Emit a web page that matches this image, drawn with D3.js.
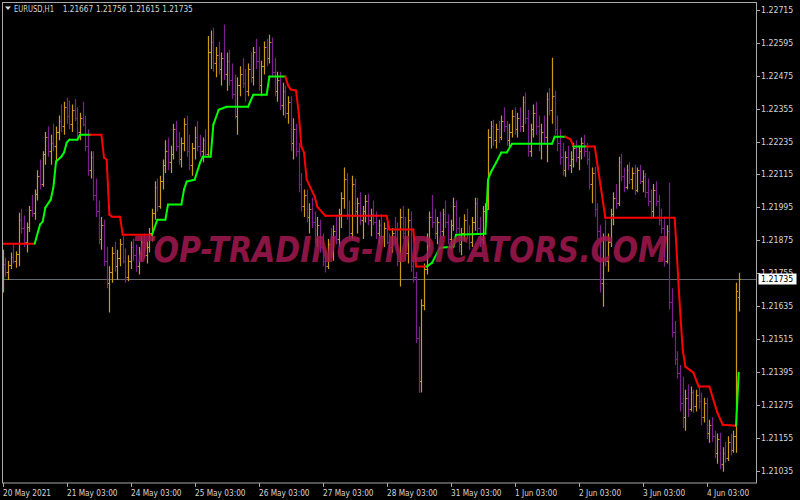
<!DOCTYPE html>
<html>
<head>
<meta charset="utf-8">
<title>EURUSD H1</title>
<script src="https://d3js.org/d3.v7.min.js"></script>
<style>
body { margin: 0; background: #000; }
</style>
</head>
<body>
<svg id="chart" width="800" height="500"></svg>
<script>
// header line
var symbolTitle = "EURUSD,H1";
var lastQuote = ["1.21667", "1.21756", "1.21615", "1.21735"];
var currentPrice = 1.21735;

// time axis: one label every 24 hourly bars
var dayLabels = ["20 May 2021", "21 May 03:00", "24 May 03:00", "25 May 03:00", "26 May 03:00", "27 May 03:00",
                 "28 May 03:00", "31 May 03:00", "1 Jun 03:00", "2 Jun 03:00", "3 Jun 03:00", "4 Jun 03:00"];
var dayBars = [0, 24, 48, 72, 96, 120, 144, 168, 192, 216, 240, 264];

// price axis
var priceTicks = [1.22715, 1.22595, 1.22475, 1.22355, 1.22235, 1.22115, 1.21995, 1.21875,
                  1.21755, 1.21635, 1.21515, 1.21395, 1.21275, 1.21155, 1.21035];

// hourly bars
var openP = [
1.21700,1.21790,1.21760,1.21785,1.21815,1.21800,1.21825,1.21950,1.21920,1.21870,1.21925,1.21985,
1.21975,1.22045,1.22110,1.22080,1.22190,1.22250,1.22200,1.22230,1.22220,1.22270,1.22310,1.22290,
1.22360,1.22330,1.22300,1.22350,1.22320,1.22270,1.22320,1.22300,1.22220,1.22130,1.22180,1.22040,
1.21980,1.21880,1.21930,1.21800,1.21720,1.21760,1.21830,1.21780,1.21810,1.21860,1.21800,1.21740,
1.21800,1.21850,1.21820,1.21780,1.21830,1.21870,1.21820,1.21850,1.21900,1.21975,1.22070,1.22000,
1.22090,1.22150,1.22200,1.22160,1.22190,1.22280,1.22220,1.22170,1.22230,1.22300,1.22200,1.22150,
1.22210,1.22250,1.22220,1.22200,1.22240,1.22190,1.22560,1.22600,1.22520,1.22550,1.22500,1.22540,
1.22480,1.22530,1.22460,1.22410,1.22330,1.22440,1.22480,1.22450,1.22420,1.22500,1.22470,1.22560,
1.22530,1.22440,1.22510,1.22580,1.22540,1.22600,1.22490,1.22420,1.22460,1.22370,1.22420,1.22340,
1.22380,1.22230,1.22280,1.22200,1.22080,1.22000,1.22040,1.21960,1.21990,1.21940,1.21880,1.21930,
1.21850,1.21800,1.21780,1.21860,1.21830,1.21910,1.21880,1.21970,1.22030,1.22100,1.21970,1.21900,
1.22080,1.21980,1.22010,1.21950,1.21980,1.22020,1.21950,1.21970,1.21940,1.21900,1.21930,1.21890,
1.21920,1.21870,1.21850,1.21900,1.21880,1.21800,1.21960,1.21900,1.21830,1.21950,1.21780,1.21740,
1.21520,1.21360,1.21640,1.21770,1.21880,1.21960,1.21940,1.21900,1.21940,1.21910,1.21970,1.21940,
1.21880,1.21930,1.22000,1.21920,1.21860,1.21900,1.21950,1.21900,1.21870,1.21940,1.22010,1.21920,
1.21880,1.21980,1.21990,1.22250,1.22290,1.22240,1.22280,1.22250,1.22310,1.22290,1.22240,1.22270,
1.22330,1.22280,1.22320,1.22290,1.22380,1.22320,1.22200,1.22280,1.22340,1.22290,1.22230,1.22270,
1.22250,1.22390,1.22350,1.22400,1.22280,1.22230,1.22180,1.22130,1.22180,1.22150,1.22170,1.22210,
1.22180,1.22200,1.22230,1.22200,1.22170,1.22080,1.22120,1.21990,1.21910,1.21720,1.21880,1.21800,
1.21870,1.21970,1.22030,1.22010,1.22160,1.22110,1.22070,1.22130,1.22100,1.22120,1.22060,1.22130,
1.22090,1.22110,1.22050,1.22020,1.21980,1.22060,1.22020,1.21950,1.21920,1.21800,1.21910,1.21650,
1.21540,1.21440,1.21390,1.21280,1.21230,1.21300,1.21260,1.21320,1.21270,1.21310,1.21290,1.21230,
1.21280,1.21170,1.21200,1.21160,1.21100,1.21150,1.21060,1.21100,1.21080,1.21140,1.21110,1.21160,
1.21667];
var highP = [
1.21840,1.21812,1.21800,1.21830,1.21860,1.21835,1.21975,1.21990,1.21965,1.21940,1.22000,1.22040,
1.22060,1.22130,1.22170,1.22200,1.22270,1.22290,1.22260,1.22300,1.22290,1.22330,1.22370,1.22380,
1.22395,1.22385,1.22370,1.22390,1.22360,1.22340,1.22380,1.22330,1.22280,1.22200,1.22200,1.22100,
1.22020,1.21960,1.21950,1.21850,1.21780,1.21850,1.21870,1.21840,1.21880,1.21890,1.21845,1.21820,
1.21870,1.21880,1.21860,1.21850,1.21890,1.21900,1.21870,1.21920,1.21990,1.22090,1.22100,1.22110,
1.22170,1.22240,1.22250,1.22220,1.22300,1.22310,1.22270,1.22250,1.22320,1.22330,1.22260,1.22230,
1.22290,1.22310,1.22260,1.22250,1.22280,1.22620,1.22640,1.22650,1.22580,1.22600,1.22560,1.22662,
1.22560,1.22570,1.22520,1.22480,1.22470,1.22510,1.22540,1.22500,1.22520,1.22560,1.22580,1.22610,
1.22580,1.22530,1.22600,1.22610,1.22625,1.22615,1.22540,1.22490,1.22490,1.22450,1.22440,1.22400,
1.22400,1.22320,1.22300,1.22230,1.22120,1.22060,1.22060,1.22010,1.22030,1.21980,1.21960,1.21950,
1.21900,1.21840,1.21880,1.21920,1.21930,1.21960,1.21990,1.22050,1.22140,1.22120,1.22020,1.22110,
1.22100,1.22030,1.22050,1.22000,1.22040,1.22045,1.21990,1.22020,1.21980,1.21950,1.21970,1.21940,
1.21950,1.21900,1.21920,1.21960,1.21940,1.21990,1.22000,1.21960,1.21990,1.21980,1.21820,1.21760,
1.21560,1.21660,1.21790,1.21900,1.21980,1.22040,1.21990,1.21960,1.21980,1.21990,1.22020,1.21970,
1.21950,1.22030,1.22020,1.21960,1.21920,1.21970,1.21990,1.21930,1.21960,1.22030,1.22030,1.21960,
1.22000,1.22010,1.22280,1.22310,1.22315,1.22300,1.22310,1.22330,1.22360,1.22310,1.22300,1.22350,
1.22360,1.22340,1.22360,1.22400,1.22414,1.22350,1.22300,1.22370,1.22380,1.22330,1.22300,1.22330,
1.22414,1.22430,1.22541,1.22420,1.22330,1.22280,1.22230,1.22200,1.22220,1.22200,1.22230,1.22240,
1.22220,1.22250,1.22260,1.22230,1.22200,1.22140,1.22143,1.22010,1.21930,1.21900,1.21950,1.21900,
1.21990,1.22050,1.22080,1.22180,1.22190,1.22140,1.22150,1.22160,1.22140,1.22150,1.22140,1.22150,
1.22130,1.22120,1.22100,1.22060,1.22080,1.22090,1.22040,1.21990,1.21961,1.21930,1.22085,1.21700,
1.21580,1.21470,1.21420,1.21377,1.21330,1.21350,1.21341,1.21330,1.21330,1.21340,1.21320,1.21300,
1.21300,1.21220,1.21230,1.21180,1.21170,1.21173,1.21120,1.21140,1.21160,1.21170,1.21180,1.21720,
1.21756];
var lowP = [
1.21684,1.21742,1.21730,1.21770,1.21790,1.21775,1.21780,1.21900,1.21850,1.21830,1.21905,1.21960,
1.21950,1.22020,1.22060,1.22070,1.22150,1.22180,1.22150,1.22200,1.22160,1.22240,1.22270,1.22260,
1.22300,1.22280,1.22270,1.22310,1.22250,1.22240,1.22290,1.22200,1.22110,1.22100,1.22020,1.21960,
1.21860,1.21840,1.21780,1.21700,1.21611,1.21720,1.21760,1.21730,1.21780,1.21790,1.21720,1.21725,
1.21770,1.21800,1.21760,1.21750,1.21800,1.21810,1.21790,1.21830,1.21870,1.21950,1.21980,1.21990,
1.22060,1.22120,1.22130,1.22120,1.22170,1.22200,1.22150,1.22140,1.22200,1.22180,1.22130,1.22110,
1.22170,1.22200,1.22180,1.22160,1.22180,1.22180,1.22500,1.22490,1.22470,1.22480,1.22440,1.22460,
1.22420,1.22440,1.22390,1.22320,1.22260,1.22400,1.22430,1.22380,1.22400,1.22450,1.22440,1.22500,
1.22420,1.22400,1.22480,1.22510,1.22520,1.22470,1.22400,1.22380,1.22350,1.22330,1.22320,1.22300,
1.22200,1.22170,1.22180,1.22050,1.21980,1.21960,1.21940,1.21900,1.21920,1.21860,1.21850,1.21830,
1.21780,1.21757,1.21770,1.21810,1.21800,1.21860,1.21850,1.21920,1.21990,1.21950,1.21880,1.21880,
1.21960,1.21900,1.21930,1.21880,1.21940,1.21930,1.21890,1.21930,1.21880,1.21860,1.21880,1.21850,
1.21860,1.21820,1.21830,1.21860,1.21780,1.21706,1.21880,1.21800,1.21790,1.21760,1.21720,1.21500,
1.21319,1.21320,1.21620,1.21750,1.21850,1.21920,1.21880,1.21860,1.21880,1.21890,1.21920,1.21860,
1.21840,1.21910,1.21900,1.21830,1.21820,1.21870,1.21880,1.21840,1.21850,1.21910,1.21900,1.21850,
1.21860,1.21940,1.21986,1.22210,1.22220,1.22210,1.22230,1.22240,1.22270,1.22220,1.22210,1.22250,
1.22260,1.22250,1.22270,1.22270,1.22300,1.22180,1.22180,1.22250,1.22260,1.22200,1.22170,1.22230,
1.22160,1.22330,1.22300,1.22260,1.22200,1.22150,1.22110,1.22107,1.22130,1.22120,1.22140,1.22160,
1.22130,1.22170,1.22180,1.22150,1.22060,1.22010,1.21961,1.21880,1.21684,1.21632,1.21780,1.21760,
1.21850,1.21930,1.21990,1.22000,1.22090,1.22050,1.22060,1.22080,1.22060,1.22040,1.22050,1.22080,
1.22050,1.22030,1.22000,1.21960,1.21960,1.22000,1.21930,1.21900,1.21778,1.21790,1.21622,1.21520,
1.21420,1.21370,1.21250,1.21190,1.21180,1.21230,1.21250,1.21246,1.21250,1.21260,1.21200,1.21210,
1.21150,1.21136,1.21140,1.21080,1.21060,1.21040,1.21030,1.21063,1.21070,1.21090,1.21100,1.21100,
1.21615];
var closeP = [
1.21790,1.21760,1.21785,1.21815,1.21800,1.21825,1.21950,1.21920,1.21870,1.21925,1.21985,1.21975,
1.22045,1.22110,1.22080,1.22190,1.22250,1.22200,1.22230,1.22220,1.22270,1.22310,1.22290,1.22360,
1.22330,1.22300,1.22350,1.22320,1.22270,1.22320,1.22300,1.22220,1.22130,1.22180,1.22040,1.21980,
1.21880,1.21930,1.21800,1.21720,1.21760,1.21830,1.21780,1.21810,1.21860,1.21800,1.21740,1.21800,
1.21850,1.21820,1.21780,1.21830,1.21870,1.21820,1.21850,1.21900,1.21975,1.22070,1.22000,1.22090,
1.22150,1.22200,1.22160,1.22190,1.22280,1.22220,1.22170,1.22230,1.22300,1.22200,1.22150,1.22210,
1.22250,1.22220,1.22200,1.22240,1.22190,1.22560,1.22600,1.22520,1.22550,1.22500,1.22540,1.22480,
1.22530,1.22460,1.22410,1.22330,1.22440,1.22480,1.22450,1.22420,1.22500,1.22470,1.22560,1.22530,
1.22440,1.22510,1.22580,1.22540,1.22600,1.22490,1.22420,1.22460,1.22370,1.22420,1.22340,1.22380,
1.22230,1.22280,1.22200,1.22080,1.22000,1.22040,1.21960,1.21990,1.21940,1.21880,1.21930,1.21850,
1.21800,1.21780,1.21860,1.21830,1.21910,1.21880,1.21970,1.22030,1.22100,1.21970,1.21900,1.22080,
1.21980,1.22010,1.21950,1.21980,1.22020,1.21950,1.21970,1.21940,1.21900,1.21930,1.21890,1.21920,
1.21870,1.21850,1.21900,1.21880,1.21800,1.21960,1.21900,1.21830,1.21950,1.21780,1.21740,1.21520,
1.21360,1.21640,1.21770,1.21880,1.21960,1.21940,1.21900,1.21940,1.21910,1.21970,1.21940,1.21880,
1.21930,1.22000,1.21920,1.21860,1.21900,1.21950,1.21900,1.21870,1.21940,1.22010,1.21920,1.21880,
1.21980,1.21990,1.22250,1.22290,1.22240,1.22280,1.22250,1.22310,1.22290,1.22240,1.22270,1.22330,
1.22280,1.22320,1.22290,1.22380,1.22320,1.22200,1.22280,1.22340,1.22290,1.22230,1.22270,1.22250,
1.22390,1.22350,1.22400,1.22280,1.22230,1.22180,1.22130,1.22180,1.22150,1.22170,1.22210,1.22180,
1.22200,1.22230,1.22200,1.22170,1.22080,1.22120,1.21990,1.21910,1.21720,1.21880,1.21800,1.21870,
1.21970,1.22030,1.22010,1.22160,1.22110,1.22070,1.22130,1.22100,1.22120,1.22060,1.22130,1.22090,
1.22110,1.22050,1.22020,1.21980,1.22060,1.22020,1.21950,1.21920,1.21800,1.21910,1.21650,1.21540,
1.21440,1.21390,1.21280,1.21230,1.21300,1.21260,1.21320,1.21270,1.21310,1.21290,1.21230,1.21280,
1.21170,1.21200,1.21160,1.21100,1.21150,1.21060,1.21100,1.21080,1.21140,1.21110,1.21160,1.21690,
1.21735];

// trend line indicator: turning points (bar index, price, 1 = up/green, -1 = down/red)
var sigBar = [0,12,14,15,16,18,19,20,22,23,24,25,28,29,33,37,38,39,40,41,44,45,56,58,61,62,67,68,69,72,
              74,75,78,79,81,84,92,94,99,100,106,107,108,110,111,112,113,114,117,118,121,144,145,154,155,159,
              161,164,169,170,181,182,183,185,187,189,191,206,207,211,213,214,216,219,222,226,252,254,255,256,
              259,261,265,268,270,275,276];
var sigVal = [1.21862,1.21862,1.21932,1.21943,1.21994,1.22023,1.22067,1.22162,1.22180,1.22195,1.22231,1.22242,
              1.22242,1.22260,1.22260,1.22260,1.22176,1.22169,1.21968,1.21961,1.21961,1.21895,1.21895,1.21950,
              1.21950,1.22005,1.22005,1.22060,1.22089,1.22096,1.22158,1.22180,1.22180,1.22297,1.22351,1.22362,
              1.22362,1.22406,1.22406,1.22472,1.22472,1.22440,1.22425,1.22421,1.22341,1.22217,1.22195,1.22096,
              1.22034,1.21997,1.21964,1.21964,1.21914,1.21914,1.21779,1.21779,1.21793,1.21848,1.21851,1.21895,
              1.21899,1.22096,1.22122,1.22158,1.22195,1.22195,1.22227,1.22227,1.22253,1.22253,1.22242,1.22217,
              1.22217,1.22217,1.22217,1.21957,1.21957,1.21622,1.21476,1.21414,1.21392,1.21341,1.21341,1.21246,
              1.21202,1.21198,1.21392];
var sigDir = [-1,-1,1,1,1,1,1,1,1,1,1,1,1,1,1,-1,-1,-1,-1,-1,-1,-1,-1,1,1,1,1,1,1,1,
              1,1,1,1,1,1,1,1,1,1,1,-1,-1,-1,-1,-1,-1,-1,-1,-1,-1,-1,-1,-1,-1,-1,1,1,1,1,
              1,1,1,1,1,1,1,1,1,1,-1,-1,1,1,-1,-1,-1,-1,-1,-1,-1,-1,-1,-1,-1,-1,1];

var upColor = "#cc9c14", dnColor = "#7d1f8e";
var axisColor = "#a8a8a8", textColor = "#d4d4d4";
var uiFont = "'DejaVu Sans Condensed', 'Liberation Sans', sans-serif";

var svg = d3.select("#chart");
svg.append("rect").attr("width", 800).attr("height", 500).attr("fill", "#000");

var x = d3.scaleLinear().domain([0, closeP.length - 1]).range([2.7, 738.7]);
var y = d3.scaleLinear().domain([1.21035, 1.22715]).range([470.5, 10]);

function px(v) { return Math.round(v) + 0.5; }

svg.append("clipPath").attr("id", "plot")
  .append("rect").attr("x", 3).attr("y", 3).attr("width", 754).attr("height", 480);

var plot = svg.append("g").attr("clip-path", "url(#plot)");

// current price line
plot.append("line")
  .attr("x1", 2).attr("x2", 757)
  .attr("y1", px(y(currentPrice))).attr("y2", px(y(currentPrice)))
  .attr("stroke", "#646a72").attr("stroke-width", 1.2);

// OHLC bars
plot.append("g").selectAll("path")
  .data(closeP)
  .enter()
  .append("path")
    .attr("d", function(c, i) {
      var xi = px(x(i));
      return "M" + xi + "," + y(highP[i]) + "V" + y(lowP[i]) +
             "M" + (xi - 1.5) + "," + px(y(openP[i])) + "H" + xi +
             "M" + xi + "," + px(y(c)) + "H" + (xi + 1.5);
    })
    .attr("fill", "none")
    .attr("stroke", function(c, i) { return c >= openP[i] ? upColor : dnColor; })
    .attr("stroke-width", 1.2);

// indicator line, one piece per pair of turning points
var sigLine = d3.line()
  .x(function(k) { return x(sigBar[k]); })
  .y(function(k) { return y(sigVal[k]); });

plot.append("g").selectAll("path")
  .data(d3.pairs(d3.range(sigBar.length)))
  .enter()
  .append("path")
    .attr("d", sigLine)
    .attr("fill", "none")
    .attr("stroke", function(p) { return sigDir[p[1]] > 0 ? "#00ff00" : "#ff0000"; })
    .attr("stroke-width", 2)
    .attr("stroke-linecap", "round");

// watermark
svg.append("text")
  .attr("x", 133).attr("y", 262)
  .attr("textLength", 535).attr("lengthAdjust", "spacingAndGlyphs")
  .attr("font-family", "'DejaVu Sans', sans-serif")
  .attr("font-weight", "bold").attr("font-style", "italic")
  .attr("font-size", 35)
  .attr("fill", "#a3184f").attr("opacity", 0.85)
  .text("TOP-TRADING-INDICATORS.COM");

// frame
svg.append("rect")
  .attr("x", 2.5).attr("y", 2.5).attr("width", 754).attr("height", 480.5)
  .attr("fill", "none").attr("stroke", axisColor);

// price axis
var pAxis = svg.append("g");
pAxis.selectAll("line").data(priceTicks).enter().append("line")
  .attr("x1", 757).attr("x2", 760)
  .attr("y1", function(d) { return px(y(d)); }).attr("y2", function(d) { return px(y(d)); })
  .attr("stroke", axisColor);
pAxis.selectAll("text").data(priceTicks).enter().append("text")
  .attr("x", 761).attr("y", function(d) { return y(d) + 3; })
  .attr("font-family", uiFont).attr("font-size", 8.7)
  .attr("fill", textColor)
  .text(function(d) { return d.toFixed(5); });

// current price box
svg.append("rect")
  .attr("x", 758.5).attr("y", Math.round(y(currentPrice)) - 5.5)
  .attr("width", 38).attr("height", 11)
  .attr("fill", "#ffffff");
svg.append("text")
  .attr("x", 761).attr("y", y(currentPrice) + 3)
  .attr("font-family", uiFont).attr("font-size", 8.7)
  .attr("fill", "#000")
  .text(currentPrice.toFixed(5));

// time axis
var tAxis = svg.append("g");
tAxis.selectAll("line").data(dayBars).enter().append("line")
  .attr("x1", function(d) { return px(x(d)); }).attr("x2", function(d) { return px(x(d)); })
  .attr("y1", 483).attr("y2", 487)
  .attr("stroke", axisColor);
tAxis.selectAll("text").data(dayLabels).enter().append("text")
  .attr("x", function(d, k) { return Math.round(x(dayBars[k])); })
  .attr("y", 495.5)
  .attr("font-family", uiFont).attr("font-size", 8.2)
  .attr("fill", textColor)
  .text(function(d) { return d; });

// header
svg.append("path").attr("d", "M5,6.5H11L8,10Z").attr("fill", "#e0e0e0");
svg.append("text")
  .attr("x", 14).attr("y", 12)
  .attr("textLength", 40).attr("lengthAdjust", "spacingAndGlyphs")
  .attr("font-family", uiFont).attr("font-size", 8.7)
  .attr("fill", textColor)
  .text(symbolTitle);
svg.append("g").selectAll("text").data(lastQuote).enter().append("text")
  .attr("x", function(d, k) { return 62.7 + k * 33.2; })
  .attr("y", 12)
  .attr("textLength", 30.5).attr("lengthAdjust", "spacingAndGlyphs")
  .attr("font-family", uiFont).attr("font-size", 8.7)
  .attr("fill", textColor)
  .text(function(d) { return d; });
</script>
</body>
</html>
